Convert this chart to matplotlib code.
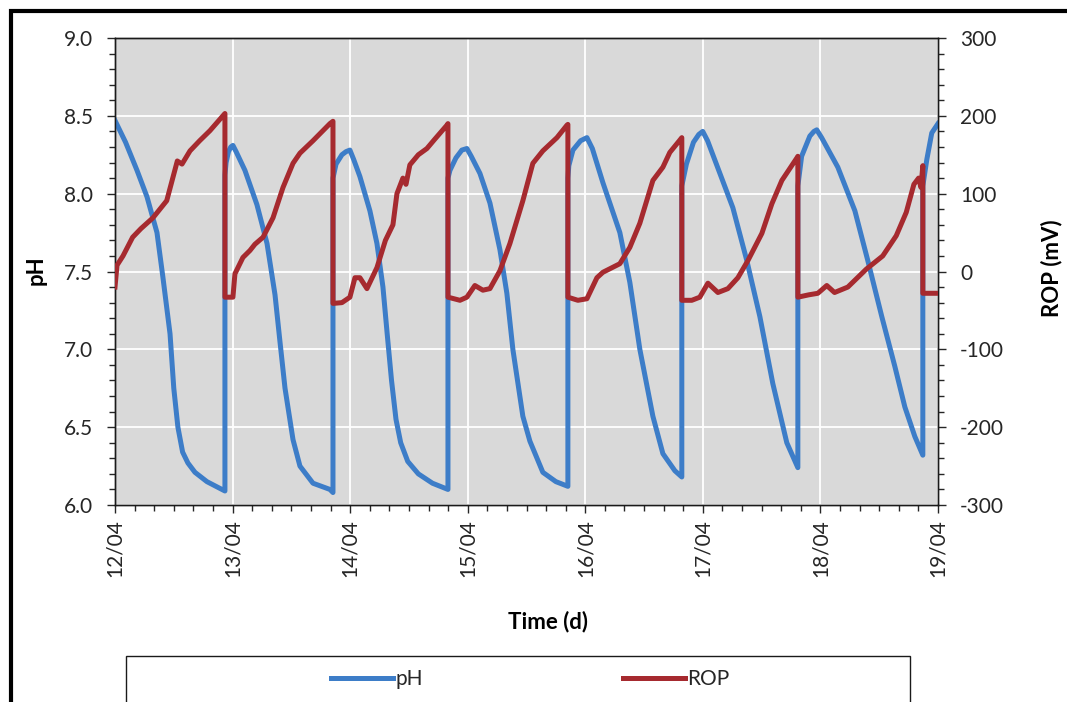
import matplotlib
matplotlib.use("Agg")
import matplotlib.pyplot as plt
from matplotlib.patches import Rectangle
from matplotlib.ticker import MultipleLocator, FixedLocator, FixedFormatter, FormatStrFormatter

plt.rcParams['font.family'] = ['Lato', 'DejaVu Sans']
plt.rcParams['axes.unicode_minus'] = False

# ---------------- data (time in days from 12/04) ----------------
ph_time = [0.000, 0.090, 0.187, 0.272, 0.357, 0.408, 0.468, 0.500, 0.535, 0.575, 0.620, 0.680, 0.782, 0.935,
           0.935, 0.945, 0.965, 0.985, 1.003, 1.030,
           1.105, 1.207, 1.293, 1.361, 1.403, 1.446, 1.514, 1.573, 1.684, 1.828, 1.854,
           1.854, 1.880, 1.930, 1.965, 1.998, 2.030,
           2.083, 2.168, 2.228, 2.279, 2.315, 2.352, 2.390, 2.430, 2.490, 2.580, 2.700, 2.832,
           2.832, 2.849, 2.900, 2.950, 2.993, 3.030,
           3.104, 3.189, 3.274, 3.333, 3.384, 3.469, 3.529, 3.639, 3.750, 3.852,
           3.852, 3.860, 3.895, 3.960, 4.014, 4.060,
           4.150, 4.294, 4.379, 4.464, 4.575, 4.660, 4.762, 4.821,
           4.821, 4.860, 4.920, 4.965, 4.999, 5.040,
           5.145, 5.255, 5.374, 5.485, 5.595, 5.714, 5.808,
           5.808, 5.840, 5.910, 5.945, 5.969, 6.010,
           6.148, 6.293, 6.403, 6.522, 6.633, 6.718, 6.803, 6.871,
           6.871, 6.905, 6.947, 7.000]
ph_values = [8.47, 8.33, 8.15, 7.98, 7.75, 7.46, 7.10, 6.75, 6.50, 6.34, 6.27, 6.21, 6.15, 6.09,
             8.12, 8.20, 8.27, 8.30, 8.31, 8.27,
             8.15, 7.93, 7.68, 7.35, 7.05, 6.75, 6.42, 6.25, 6.14, 6.10, 6.08,
             8.10, 8.19, 8.25, 8.27, 8.28, 8.22,
             8.11, 7.89, 7.68, 7.40, 7.10, 6.80, 6.55, 6.40, 6.28, 6.20, 6.14, 6.10,
             8.10, 8.15, 8.23, 8.28, 8.29, 8.24,
             8.13, 7.94, 7.64, 7.36, 7.00, 6.57, 6.41, 6.21, 6.15, 6.12,
             8.10, 8.18, 8.28, 8.34, 8.36, 8.29,
             8.07, 7.75, 7.43, 7.00, 6.57, 6.33, 6.22, 6.18,
             8.05, 8.19, 8.33, 8.38, 8.40, 8.34,
             8.13, 7.91, 7.57, 7.21, 6.78, 6.40, 6.24,
             8.05, 8.24, 8.37, 8.40, 8.41, 8.36,
             8.17, 7.89, 7.57, 7.21, 6.89, 6.63, 6.44, 6.32,
             8.05, 8.22, 8.39, 8.45]

rop_time = [0.000, 0.017, 0.068, 0.150, 0.220, 0.323, 0.440, 0.530, 0.570, 0.638, 0.720, 0.808, 0.935,
            0.935, 1.003, 1.020, 1.088, 1.148, 1.190, 1.259, 1.344, 1.429, 1.514, 1.573, 1.684, 1.828, 1.854,
            1.854, 1.930, 1.998, 2.041, 2.083, 2.143, 2.228, 2.300, 2.364, 2.398, 2.449, 2.475, 2.508,
            2.580, 2.653, 2.720, 2.823, 2.832,
            2.832, 2.934, 2.993, 3.061, 3.129, 3.189, 3.274, 3.359, 3.469, 3.554, 3.639, 3.759, 3.844, 3.852,
            3.852, 3.937, 4.014, 4.099, 4.150, 4.294, 4.379, 4.464, 4.575, 4.660, 4.719, 4.800, 4.821,
            4.821, 4.906, 4.974, 5.043, 5.128, 5.213, 5.298, 5.383, 5.502, 5.587, 5.672, 5.800, 5.808,
            5.808, 5.900, 5.978, 6.054, 6.120, 6.233, 6.390, 6.530, 6.645, 6.730, 6.795, 6.835, 6.855, 6.871,
            6.871, 7.000]
rop_values = [-20, 8, 20, 44, 55, 69, 91, 142, 138, 155, 168, 181, 203,
              -33, -33, -3, 18, 27, 35, 44, 69, 108, 139, 152, 168, 190, 193,
              -41, -40, -33, -8, -8, -22, 5, 40, 60, 100, 120, 112, 137,
              150, 158, 170, 188, 190,
              -33, -37, -33, -18, -24, -22, 1, 36, 91, 139, 155, 172, 188, 189,
              -33, -37, -35, -8, -1, 10, 31, 62, 117, 134, 153, 168, 172,
              -37, -37, -33, -15, -27, -22, -8, 14, 49, 87, 117, 146, 148,
              -33, -30, -28, -18, -27, -20, 3, 20, 46, 76, 112, 120, 108, 136,
              -28, -28]

x_tick_labels = ["12/04", "13/04", "14/04", "15/04", "16/04", "17/04", "18/04", "19/04"]

# ---------------- figure ----------------
W, H = 1067, 702
fig = plt.figure(figsize=(W / 100, H / 100), dpi=100)
fig.patch.set_facecolor('white')

def fx(px):
    return px / W

def fy(py):
    return 1 - py / H

left, right, top, bottom = 115, 938, 38, 505
ax = fig.add_axes([fx(left), fy(bottom), fx(right) - fx(left), fy(top) - fy(bottom)])
ax.set_facecolor('#d9d9d9')
ax2 = ax.twinx()
ax2.patch.set_visible(False)

blue = '#3d7dc8'
red = '#a62a2f'
lw = 3.6

l1, = ax.plot(ph_time, ph_values, color=blue, lw=lw, solid_joinstyle='round', label='pH', zorder=3)
l2, = ax2.plot(rop_time, rop_values, color=red, lw=lw, solid_joinstyle='round', label='ROP', zorder=3)

ax.set_xlim(0, 7)
ax.set_ylim(6.0, 9.0)
ax2.set_ylim(-300, 300)

ax.xaxis.set_major_locator(FixedLocator(list(range(len(x_tick_labels)))))
ax.xaxis.set_major_formatter(FixedFormatter(x_tick_labels))
ax.xaxis.set_minor_locator(MultipleLocator(1 / 6))
ax.yaxis.set_major_locator(MultipleLocator(0.5))
ax.yaxis.set_minor_locator(MultipleLocator(0.1))
ax.yaxis.set_major_formatter(FormatStrFormatter('%.1f'))
ax2.yaxis.set_major_locator(MultipleLocator(100))
ax2.yaxis.set_minor_locator(MultipleLocator(20))

ax.grid(True, which='major', color='white', lw=1.3, zorder=0)
ax.set_axisbelow(True)

tick_color = '#262626'
fs = 15
ax.tick_params(axis='x', which='major', direction='out', length=6, width=1, pad=4,
               labelsize=fs, labelrotation=90, colors=tick_color)
ax.tick_params(axis='x', which='minor', direction='out', length=4.5, width=1, colors=tick_color)
ax.tick_params(axis='y', which='major', direction='out', length=6, width=1, pad=10,
               labelsize=fs, colors=tick_color)
ax.tick_params(axis='y', which='minor', direction='out', length=4.5, width=1, colors=tick_color)
ax2.tick_params(axis='y', which='major', direction='out', length=6, width=1, pad=10,
                labelsize=fs, colors=tick_color)
ax2.tick_params(axis='y', which='minor', direction='out', length=4.5, width=1, colors=tick_color)
for a in (ax, ax2):
    for s in a.spines.values():
        s.set_color('#1a1a1a')
        s.set_linewidth(1.0)

# axis titles
fig.text(fx(548), fy(622), 'Time (d)', ha='center', va='center', fontsize=16, fontweight='bold')
fig.text(fx(36), fy(270), 'pH', ha='center', va='center', rotation=90, fontsize=16, fontweight='bold')
fig.text(fx(1052), fy(268), 'ROP (mV)', ha='center', va='center', rotation=90, fontsize=16,
         fontweight='bold')

# legend
leg = fig.legend(handles=[l1, l2], loc='center', bbox_to_anchor=(fx(530), fy(679)), ncol=2,
                 frameon=False, fontsize=fs, handlelength=3.0, handletextpad=0.1,
                 columnspacing=9.6)
for t in leg.get_texts():
    t.set_color(tick_color)
fig.add_artist(Rectangle((fx(126), fy(720)), fx(910) - fx(126), fy(656) - fy(720),
                         transform=fig.transFigure, fill=False, ec='#1a1a1a', lw=1.0))

# outer frame
fig.add_artist(Rectangle((fx(11), fy(760)), fx(1200) - fx(11), fy(11) - fy(760),
                         transform=fig.transFigure, fill=False, ec='black', lw=3.0))

fig.savefig('out.png', dpi=100)
